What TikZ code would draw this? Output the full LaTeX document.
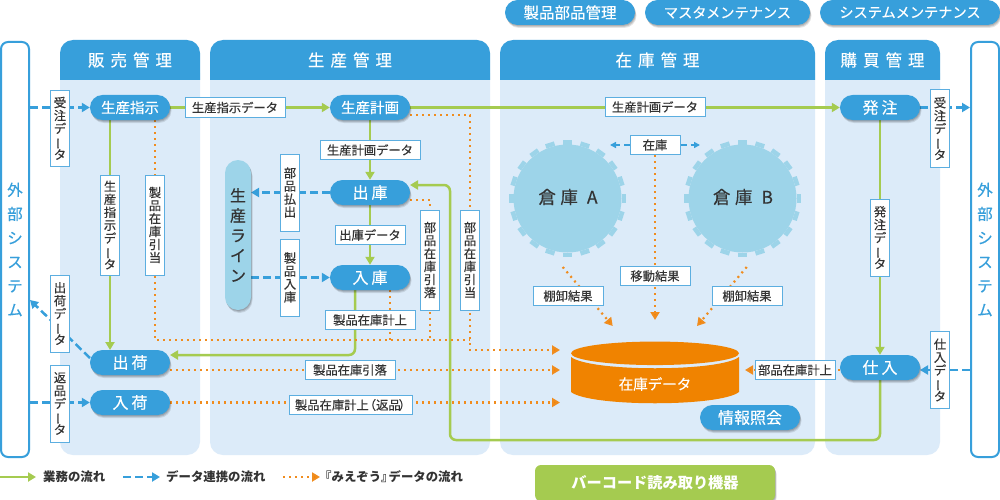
\documentclass[tikz,border=0pt]{standalone}
\usepackage{fontspec}
\setmainfont{Noto Sans CJK JP}
\newfontfamily\jpm[FakeBold=0.35]{Noto Sans CJK JP}
\usetikzlibrary{arrows.meta,shadows,calc,shapes.geometric}
\definecolor{bluem}{HTML}{379FDB}
\definecolor{panelc}{HTML}{DCEBF9}
\definecolor{lightb}{HTML}{9DD4E9}
\definecolor{orangem}{HTML}{F08300}
\definecolor{dotc}{HTML}{F08C1E}
\definecolor{greenm}{HTML}{A5CB50}
\definecolor{textc}{HTML}{333333}
\definecolor{boxb}{HTML}{5CAEE0}
\pgfdeclarelayer{panels}\pgfdeclarelayer{lines}
\pgfsetlayers{panels,lines,main}
\newcommand\vb{\smash{\rotatebox[origin=c]{90}{ー}}}
\newcommand\hs{\hspace{6pt}}
\newcommand\hp{\hspace{3pt}}
\tikzset{
  softshadow/.style={drop shadow={shadow xshift=.5pt,shadow yshift=-1pt,opacity=.12,fill=black},
    drop shadow={shadow xshift=1pt,shadow yshift=-2pt,opacity=.12,fill=black},
    drop shadow={shadow xshift=1.5pt,shadow yshift=-3pt,opacity=.1,fill=black}},
  pill/.style={fill=bluem,text=white,rounded corners=12.5pt,minimum width=80pt,minimum height=25pt,inner sep=0pt,softshadow,font=\jpm\fontsize{14.5}{16}\selectfont},
  pillb/.style={pill,font=\jpm\fontsize{16}{18}\selectfont},
  hdrtext/.style={text=white,inner sep=0pt,font=\jpm\fontsize{16.5}{18}\selectfont},
  hbox/.style={draw=boxb,line width=1pt,fill=white,text=textc,inner sep=0pt,minimum height=19.5pt,font=\jpm\fontsize{12.3}{14}\selectfont},
  vbox/.style={draw=boxb,line width=1pt,fill=white,text=textc,inner sep=0pt,minimum width=19.5pt,align=center,font=\jpm\fontsize{12.3}{13}\selectfont},
  glink/.style={draw=greenm,line width=2.5pt,-{Triangle[length=8pt,width=9pt]},rounded corners=6pt},
  blink/.style={draw=bluem,line width=2.5pt,dash pattern=on 8pt off 4pt,-{Triangle[length=8pt,width=9pt]}},
  blinks/.style={draw=bluem,line width=1.8pt,dash pattern=on 6pt off 4pt,-{Triangle[length=6pt,width=6pt]}},
  dlink/.style={draw=dotc,line width=2.2pt,dash pattern=on 2pt off 4pt},
  dlinka/.style={dlink,-{Triangle[length=8pt,width=9pt,fill=orangem]}},
  extbox/.style={draw=bluem,line width=2pt,fill=white,rounded corners=7pt,inner sep=0pt,minimum width=28pt,minimum height=415pt,text=bluem,align=center,font=\jpm\fontsize{15.5}{24}\selectfont},
  gear/.style={fill=lightb},
}
\newcommand\panel[4]{% x1 x2 bottom name
  \fill[panelc,rounded corners=13pt] (#1,60) rectangle (#2,#3);
  \fill[bluem] (#1,80) [rounded corners=13pt] -- (#1,40) -- (#2,40) [sharp corners] -- (#2,80) -- cycle;
}
\newcommand\geardraw[1]{%
  \foreach \a in {0,18,...,342}{
    \fill[gear,shift={(#1)},rotate=\a] (-4.6,-54) rectangle (4.6,-58.5);
  }
}
\begin{document}
\begin{tikzpicture}[x=1pt,y=-1pt]
\useasboundingbox (0,0) rectangle (1000,500);
\begin{pgfonlayer}{panels}
  \fill[white] (0,0) rectangle (1000,500);
  \panel{60}{200}{455}{a}
  \panel{210}{490}{455}{b}
  \panel{500}{815}{455}{c}
  \panel{825}{940}{455}{d}
\end{pgfonlayer}
% headers
\node[hdrtext] (h1) at (130,60) {販\hs 売\hs 管\hs 理};
\node[hdrtext] (h2) at (350,60) {生\hs 産\hs 管\hs 理};
\node[hdrtext] (h3) at (657.5,60) {在\hs 庫\hs 管\hs 理};
\node[hdrtext] (h4) at (882.5,60) {購\hs 買\hs 管\hs 理};
% top pills
\node[pill,minimum width=130pt,font=\jpm\fontsize{15.5}{16}\selectfont] (t1) at (570,12.5) {製品部品管理};
\node[pill,minimum width=165pt,font=\jpm\fontsize{14.2}{16}\selectfont] (t2) at (727.5,12.5) {マスタメンテナンス};
\node[pill,minimum width=180pt,font=\jpm\fontsize{14.2}{16}\selectfont] (t3) at (910,12.5) {システムメンテナンス};
% external systems
\node[extbox] (el) at (15,249.5) {外\\部\\シ\\ス\\テ\\ム};
\node[extbox] (er) at (985,249.5) {外\\部\\シ\\ス\\テ\\ム};
% process pills
\node[pill] (hs) at (130,107.5) {生産指示};
\node[pillb] (sk) at (130,362.5) {出\hp 荷};
\node[pillb] (nk) at (130,402.5) {入\hp 荷};
\node[pill] (kk) at (370,107.5) {生産計画};
\node[pillb] (sy) at (370,192.5) {出\hp 庫};
\node[pillb] (ny) at (370,277.5) {入\hp 庫};
\node[pillb] (hc) at (880,107.5) {発\hp 注};
\node[pillb] (sr) at (880,367.5) {仕\hp 入};
\node[pill,minimum width=100pt,font=\jpm\fontsize{16}{18}\selectfont] (js) at (750,417.5) {情報照会};
% production line
\node[fill=lightb,rounded corners=13pt,minimum width=26pt,minimum height=150pt,inner sep=0pt,softshadow,text=textc,align=center,font=\jpm\fontsize{16}{20}\selectfont] (pl) at (238,235) {生\\産\\ラ\\イ\\ン};
% gears
\node[circle,gear,minimum size=108pt,inner sep=0pt] (ga) at (567.5,198.5) {};
\node[circle,gear,minimum size=108pt,inner sep=0pt] (gb) at (742.5,198.5) {};
\geardraw{ga.center}
\geardraw{gb.center}
\node[text=textc,inner sep=0pt,font=\jpm\fontsize{17.5}{19}\selectfont] (gat) at (568,197) {倉\hspace{4.5pt}庫\hspace{9pt}A};
\node[text=textc,inner sep=0pt,font=\jpm\fontsize{17.5}{19}\selectfont] (gbt) at (743,197) {倉\hspace{4.5pt}庫\hspace{9pt}B};
% cylinder
\fill[orangem] (571,357) -- (571,392) .. controls (590,407) and (720,407) .. (739,392) -- (739,357) .. controls (720,372) and (590,372) .. (571,357) -- cycle;
\node[ellipse,fill=orangem,minimum width=168pt,minimum height=23.5pt,inner sep=0pt] (db) at (655,353.3) {};
\node[text=white,inner sep=0pt,font=\jpm\fontsize{14.5}{16}\selectfont] (dbt) at (655,384) {在庫データ};
\coordinate (dba) at (560,350);
\coordinate (dbb) at (560,370);
\coordinate (dbc) at (560,402.5);
\coordinate (dbd) at (745,370);
\coordinate (dbe) at (612.7,326);
\coordinate (dbf) at (655,320);
\coordinate (dbg) at (697,326);
% barcode
\node[fill=greenm,text=white,rounded corners=6pt,minimum width=240pt,minimum height=36pt,inner sep=0pt,softshadow,font=\bfseries\fontsize{15.2}{16}\selectfont] (bc) at (655,483) {バーコード読み取り機器};
% horizontal labels
\node[hbox,minimum width=100pt] (l1) at (235,107.5) {生産指示データ};
\node[hbox,minimum width=100pt] (l2) at (370,150) {生産計画データ};
\node[hbox,minimum width=70pt] (l3) at (370,235) {出庫データ};
\node[hbox,minimum width=90pt] (l4) at (370,320) {製品在庫計上};
\node[hbox,minimum width=90pt] (l5) at (350,370) {製品在庫引落};
\node[hbox,minimum width=123pt] (l6) at (350.5,405) {製品在庫計上\kern-5pt（返品\kern-2pt）\kern-5pt};
\node[hbox,minimum width=100pt] (l7) at (655,107) {生産計画データ};
\node[hbox,minimum width=50pt] (l8) at (655,145) {在庫};
\node[hbox,minimum width=70pt] (l9) at (655,276) {移動結果};
\node[hbox,minimum width=70pt] (l10) at (568,296) {棚卸結果};
\node[hbox,minimum width=70pt] (l11) at (747,296) {棚卸結果};
\node[hbox,minimum width=80pt] (l12) at (795,370) {部品在庫計上};
% vertical labels
\node[vbox,minimum height=76.5pt] (v1) at (60,128.3) {受\\注\\デ\\\vb\\タ};
\node[vbox,minimum height=100pt] (v2) at (110,225) {生\\産\\指\\示\\デ\\\vb\\タ};
\node[vbox,minimum height=100pt] (v3) at (155,225) {製\\品\\在\\庫\\引\\当};
\node[vbox,minimum height=77pt] (v4) at (290,192.5) {部\\品\\払\\出};
\node[vbox,minimum height=77pt] (v5) at (290,277.5) {製\\品\\入\\庫};
\node[vbox,minimum height=100pt] (v6) at (430,260) {部\\品\\在\\庫\\引\\落};
\node[vbox,minimum height=100pt] (v7) at (470,260) {部\\品\\在\\庫\\引\\当};
\node[vbox,minimum height=77pt] (v8) at (60,313.5) {出\\荷\\デ\\\vb\\タ};
\node[vbox,minimum height=77pt] (v9) at (60,403.5) {返\\品\\デ\\\vb\\タ};
\node[vbox,minimum height=77pt] (v10) at (940,128.5) {受\\注\\デ\\\vb\\タ};
\node[vbox,minimum height=77pt] (v11) at (880,237.5) {発\\注\\デ\\\vb\\タ};
\node[vbox,minimum height=77pt] (v12) at (940,370) {仕\\入\\デ\\\vb\\タ};
% legend
\coordinate (lg1a) at (0,477); \coordinate (lg1b) at (36,477);
\coordinate (lg2a) at (123,477); \coordinate (lg2b) at (160,477);
\coordinate (lg3a) at (283,477); \coordinate (lg3b) at (320,477);
\node[anchor=west,inner sep=0pt,text=textc,font=\bfseries\fontsize{12.4}{14}\selectfont] (lt1) at (43,476.5) {業務の流れ};
\node[anchor=west,inner sep=0pt,text=textc,font=\bfseries\fontsize{12.4}{14}\selectfont] (lt2) at (166,476.5) {データ連携の流れ};
\node[anchor=west,inner sep=0pt,text=textc,font=\bfseries\fontsize{12.4}{14}\selectfont] (lt3) at (325,476.5) {\kern-6pt『みえぞう』\kern-5ptデータの流れ};
% connector helper coordinates
\coordinate (elu) at (30,107.5);
\coordinate (eld) at (30,402.5);
\coordinate (els) at (30,300);
\coordinate (sks) at (90,358);
\coordinate (eru) at (970,107.5);
\coordinate (erd) at (970,370);
\coordinate (sre) at (920,370);
\coordinate (plr) at (251,192.5);
\coordinate (pls) at (251,277.5);
\coordinate (a1) at (355,290);
\coordinate (a2) at (355,355);
\coordinate (a3) at (170,355);
\coordinate (b1) at (880,440);
\coordinate (b2) at (450,440);
\coordinate (b3) at (450,185);
\coordinate (b4) at (410,185);
\coordinate (c1) at (110,120);
\coordinate (c2) at (110,350);
\coordinate (d1a) at (155,120);
\coordinate (d1b) at (155,340);
\coordinate (d1c) at (470,340);
\coordinate (d2a) at (410,115);
\coordinate (d2b) at (470,115);
\coordinate (d2c) at (470,350);
\coordinate (d3a) at (410,200);
\coordinate (d3b) at (430,200);
\coordinate (d3c) at (430,340);
\coordinate (d4a) at (390,290);
\coordinate (d4b) at (390,340);
\coordinate (d5a) at (170,370);
\coordinate (zl) at (610,145);
\coordinate (zr) at (700,145);
\coordinate (ga1) at (562.7,267);
\coordinate (gb1) at (746.7,267);
\coordinate (sr1) at (840,370);
\begin{pgfonlayer}{lines}
  % green
  \draw[glink] (hs) -- (kk);
  \draw[glink] (kk) -- (hc);
  \draw[glink] (c1) -- (c2);
  \draw[glink] (kk) -- (sy);
  \draw[glink] (sy) -- (ny);
  \draw[glink] (a1) -- (a2) -- (a3);
  \draw[glink] (hc) -- (sr);
  \draw[glink] (sr) -- (b1) -- (b2) -- (b3) -- (b4);
  % blue
  \draw[blink] (elu) -- (hs);
  \draw[blink] (eld) -- (nk);
  \draw[blink] (sks) -- (els);
  \draw[blink] (sy) -- (plr);
  \draw[blink] (pls) -- (ny);
  \draw[blink] (hc) -- (eru);
  \draw[blink] (erd) -- (sre);
  \draw[blinks] (l8) -- (zl);
  \draw[blinks] (l8) -- (zr);
  % dotted
  \draw[dlink] (d1a) -- (d1b) -- (d1c);
  \draw[dlinka] (d2a) -- (d2b) -- (d2c) -- (dba);
  \draw[dlink] (d3a) -- (d3b) -- (d3c);
  \draw[dlink] (d4a) -- (d4b);
  \draw[dlinka] (d5a) -- (dbb);
  \draw[dlinka] (nk) -- (dbc);
  \draw[dlinka] (l8) -- (dbf);
  \draw[dlinka] (ga1) -- (dbe);
  \draw[dlinka] (gb1) -- (dbg);
  \draw[dlinka] (sr1) -- (dbd);
  % legend lines
  \draw[glink] (lg1a) -- (lg1b);
  \draw[blink] (lg2a) -- (lg2b);
  \draw[dlinka] (lg3a) -- (lg3b);
\end{pgfonlayer}
\end{tikzpicture}
\end{document}
